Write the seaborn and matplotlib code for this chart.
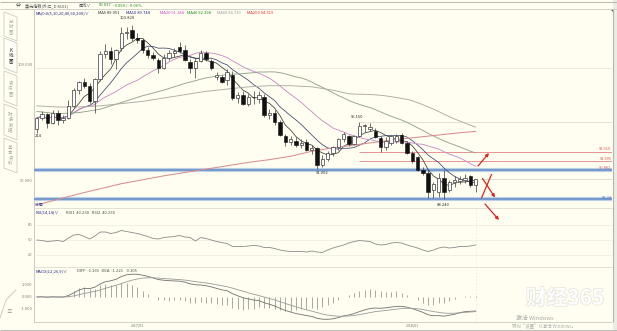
import numpy as np
import pandas as pd
import matplotlib
matplotlib.use("Agg")
import matplotlib.pyplot as plt
import matplotlib.patheffects as pe
from matplotlib.patches import Polygon
import seaborn as sns

sns.set_theme(style="white")
plt.rcParams["font.family"] = ["Noto Sans CJK SC", "DejaVu Sans"]
plt.rcParams["axes.unicode_minus"] = False

# ---- weekly US dollar index candles ----
open_ = [94.50, 95.50, 95.85, 95.10, 96.00, 95.30, 95.50, 96.60, 98.00, 98.70,
         98.40, 97.00, 99.00, 101.20, 101.50, 100.80, 101.80, 103.10, 103.40, 102.70,
         102.50, 101.60, 101.10, 100.70, 100.00, 100.90, 101.30, 101.90, 101.60, 100.50,
         99.97, 100.60, 101.30, 100.60, 99.20, 99.20, 98.90, 99.40, 97.30, 97.60,
         96.80, 97.40, 97.20, 97.40, 95.80, 96.00, 95.20, 93.90, 93.40, 93.50,
         93.10, 93.40, 92.70, 92.80, 91.30, 91.90, 92.40, 92.90, 93.60, 93.90,
         93.20, 93.90, 94.80, 94.50, 94.40, 93.70, 92.90, 93.30, 93.50, 94.00,
         93.30, 92.40, 92.00, 90.90, 90.60, 89.10, 88.90, 90.20, 89.10, 89.80,
         89.90, 90.00, 90.30, 89.55]
high = [95.60, 96.10, 95.95, 96.20, 96.20, 95.80, 97.10, 98.20, 98.80, 99.10,
        98.60, 99.10, 101.50, 102.10, 101.90, 101.70, 103.60, 103.60, 103.82, 103.10,
        102.70, 101.90, 101.40, 100.90, 101.20, 101.60, 101.80, 102.30, 102.00, 100.80,
        100.90, 101.60, 101.50, 100.80, 99.60, 99.40, 99.90, 99.70, 97.80, 97.90,
        97.70, 97.90, 97.90, 97.70, 96.30, 96.20, 95.30, 94.10, 93.90, 93.80,
        93.60, 93.60, 93.10, 92.90, 92.20, 92.60, 93.00, 93.70, 94.30, 94.00,
        94.00, 95.15, 95.00, 95.05, 94.60, 93.90, 93.80, 94.00, 94.10, 94.20,
        93.50, 92.60, 92.10, 91.10, 90.90, 89.80, 90.60, 90.90, 90.00, 90.30,
        90.30, 90.50, 90.40, 90.10]
low = [94.21, 95.30, 94.60, 95.00, 94.90, 95.10, 95.40, 96.50, 97.70, 98.20,
       96.90, 96.00, 98.80, 100.90, 100.30, 99.90, 101.50, 102.60, 102.40, 102.20,
       101.30, 100.90, 100.70, 99.50, 99.90, 100.70, 101.00, 101.30, 100.60, 99.50,
       99.10, 100.50, 100.60, 99.80, 98.90, 98.60, 98.50, 97.10, 96.90, 96.70,
       96.60, 96.80, 96.90, 95.60, 95.40, 94.90, 93.90, 93.00, 93.10, 92.90,
       92.80, 92.60, 92.30, 91.002, 91.10, 91.70, 92.10, 92.70, 93.40, 93.00,
       93.10, 93.80, 94.30, 94.40, 93.70, 92.50, 92.70, 93.10, 93.30, 93.20,
       92.30, 91.50, 90.80, 90.40, 88.40, 88.40, 88.50, 88.24, 88.90, 89.40,
       89.60, 89.70, 89.40, 88.90]
close = [95.50, 95.85, 95.10, 96.00, 95.30, 95.50, 96.60, 98.00, 98.70, 98.40,
         97.00, 99.00, 101.20, 101.50, 100.80, 101.60, 103.10, 103.20, 102.70, 102.50,
         101.60, 101.10, 100.90, 100.00, 100.90, 101.30, 101.50, 101.50, 100.70, 99.97,
         100.60, 101.30, 100.80, 100.00, 99.40, 98.70, 99.60, 97.30, 97.60, 96.80,
         97.40, 97.35, 97.60, 95.80, 96.00, 95.20, 94.00, 93.40, 93.60, 93.10,
         93.30, 92.70, 92.80, 91.30, 91.90, 92.40, 92.90, 93.60, 94.10, 93.20,
         93.90, 94.80, 94.90, 94.70, 93.80, 92.90, 93.50, 93.90, 93.90, 93.30,
         92.40, 91.70, 90.90, 90.60, 88.90, 89.60, 90.20, 88.90, 89.80, 90.00,
         90.10, 90.20, 89.50, 90.037]

# long averages before enough history is on screen
ma40_head_idx = [0, 4, 8, 12, 16, 20, 24, 28, 32, 36]
ma40_head = [96.10, 95.90, 96.00, 96.30, 96.90, 97.50, 98.00, 98.60, 99.10, 99.40]
ma60_head_idx = [0, 4, 8, 12, 16, 20, 24, 28, 32, 36, 40, 44, 48, 52, 56]
ma60_head = [96.60, 96.50, 96.50, 96.60, 96.80, 97.00, 97.30, 97.60, 97.90, 98.10,
             98.30, 98.40, 98.40, 98.30, 98.00]
ma200_idx = [0, 4, 8, 12, 16, 20, 24, 28, 32, 36, 40, 44, 48, 52, 56, 60, 64, 68,
             72, 76, 80, 83]
ma200 = [87.75, 88.25, 88.75, 89.20, 89.65, 90.00, 90.35, 90.65, 90.95, 91.25,
         91.55, 91.80, 92.10, 92.55, 92.85, 93.10, 93.35, 93.60, 93.80, 94.00,
         94.20, 94.319]

rsi = [50, 49, 47, 48, 49, 47, 54, 60, 61, 57, 52, 58, 66, 66, 63, 65, 69, 67, 65, 63,
       60, 57, 53, 52, 55, 56, 57, 59, 56, 55, 48, 55, 53, 50, 47, 45, 43, 37, 37, 37,
       38, 39, 38, 35, 35, 33, 30, 28, 27, 27, 27, 26, 28, 26, 25, 30, 34, 37, 40, 44,
       47, 49, 48, 47, 42, 40, 41, 44, 45, 44, 40, 37, 34, 30, 27, 30, 34, 36, 34, 35,
       37, 37, 38, 40.23]

diff = [0.00, 0.02, -0.02, 0.02, 0.00, 0.00, 0.12, 0.35, 0.58, 0.72, 0.70, 0.82, 1.08,
        1.28, 1.35, 1.48, 1.70, 1.85, 1.90, 1.90, 1.82, 1.72, 1.60, 1.45, 1.40, 1.36,
        1.34, 1.32, 1.24, 1.10, 1.02, 1.00, 0.94, 0.84, 0.72, 0.60, 0.52, 0.28, 0.10,
        -0.06, -0.16, -0.25, -0.30, -0.48, -0.60, -0.75, -0.95, -1.12, -1.25, -1.38,
        -1.46, -1.55, -1.62, -1.78, -1.85, -1.86, -1.82, -1.72, -1.58, -1.50, -1.38,
        -1.22, -1.08, -0.96, -0.92, -0.94, -0.90, -0.84, -0.78, -0.78, -0.85, -0.97,
        -1.12, -1.28, -1.48, -1.56, -1.55, -1.60, -1.52, -1.44, -1.30, -1.22, -1.19,
        -1.169]
dea = [0.00, 0.00, 0.00, 0.00, 0.00, 0.00, 0.02, 0.09, 0.19, 0.30, 0.38, 0.47, 0.59,
       0.73, 0.85, 0.98, 1.12, 1.27, 1.40, 1.50, 1.57, 1.60, 1.60, 1.57, 1.54, 1.51,
       1.48, 1.45, 1.41, 1.35, 1.28, 1.22, 1.17, 1.10, 1.02, 0.94, 0.86, 0.74, 0.61,
       0.48, 0.35, 0.23, 0.12, -0.01, -0.13, -0.25, -0.39, -0.54, -0.68, -0.82, -0.95,
       -1.07, -1.18, -1.30, -1.42, -1.51, -1.57, -1.60, -1.60, -1.58, -1.54, -1.47,
       -1.39, -1.30, -1.22, -1.17, -1.12, -1.06, -1.01, -0.96, -0.94, -0.95, -0.98,
       -1.04, -1.13, -1.21, -1.28, -1.34, -1.36, -1.35, -1.32, -1.28, -1.25, -1.221]

high_labels = [(17.2, 104.45, "103.820"), (60.6, 95.63, "95.150"),
               (53.9, 90.63, "91.002"), (76.9, 87.72, "88.240")]
support_levels = [90.882, 88.24]
target_levels = [92.51, 91.695]
peak_level = 95.15
date_ticks = [19, 71]
date_labels = ["2017/01", "2018/01"]

# ---- canvas geometry (pixels) ----
W, H = 617, 331
X0, DX = 36.7, 5.29          # first candle centre and spacing
PLOT_L, PLOT_R = 34, 612
BG = "#FFFEF0"

fig = plt.figure(figsize=(W / 100, H / 100), dpi=100, facecolor=BG)


def px_axes(x0, y0, x1, y1, z=1):
    ax = fig.add_axes([x0 / W, 1 - y1 / H, (x1 - x0) / W, (y1 - y0) / H], zorder=z)
    ax.set_facecolor("none")
    for s in ax.spines.values():
        s.set_visible(False)
    ax.set_xticks([])
    ax.set_yticks([])
    return ax


def xi(px):
    return (px - X0) / DX


XLIM = (xi(PLOT_L), xi(PLOT_R))

bg = px_axes(0, 0, W, H, z=0)
bg.set_xlim(0, W)
bg.set_ylim(H, 0)

fg = px_axes(0, 0, W, H, z=20)
fg.set_xlim(0, W)
fg.set_ylim(H, 0)

# ---- frame, header band, separators ----
bg.hlines([1.5], 0, W, color="#BDBDB5", lw=0.8)
bg.hlines([9.0], 0, W, color="#D2D2CA", lw=0.7)
bg.vlines([PLOT_L], 9, 322, color="#C9C9C0", lw=0.7)
bg.vlines([PLOT_R + 0.5], 9, 322, color="#B5B5AD", lw=0.8)
bg.fill_between([PLOT_R + 1, W], 0, H, color="#ECECE4", lw=0)
bg.hlines([208.0, 266.5], PLOT_L, PLOT_R, color="#DCDCD2", lw=0.6)
bg.hlines([321.5], PLOT_L, PLOT_R, color="#C9C9C0", lw=0.6)
bg.hlines([330.0], 0, W, color="#C0C0B8", lw=0.8)
bg.add_patch(Polygon([(609.5, 9.3), (612.5, 9.3), (612.5, 12.3)], closed=True,
                     color="#606060", lw=0))

# left-hand tabs
tabs = [(12, 36, "分\n时\n图", False), (38, 68, "K\n线\n图", True),
        (71, 101, "资\n讯\n图", False), (104, 135, "财\n务\n数\n据", False),
        (138, 168, "基\n本\n资\n料", False)]
for y0, y1, label, active in tabs:
    poly = Polygon([(4, y0), (17, y0 + 5), (17, y1 + 5), (4, y1)], closed=True,
                   facecolor="#FFFFF8" if active else BG,
                   edgecolor="#CDCDC3", lw=0.6)
    bg.add_patch(poly)
    bg.text(10.5, (y0 + y1) / 2 + 2.5, label, ha="center", va="center",
            fontsize=3.2, linespacing=1.05,
            color="#202020" if active else "#ABABA3")
bg.plot([0, 6, 16], [318, 300, 290], color="#C4C4BA", lw=0.6)
bg.text(9, 312, "≡", fontsize=4, color="#909090", ha="center", va="center")

# header rows
fg.text(16, 5.4, "⇔", fontsize=3.5, color="#404040", va="center")
fg.text(25, 5.4, "美元指数(外汇_D 8101)", fontsize=3.0, color="#505050", va="center")
fg.text(79, 5.4, "周线∨", fontsize=3.0, color="#505050", va="center")
fg.text(99, 5.4, "90.037", fontsize=3.0, color="#1E8A1E", va="center")
fg.text(113, 5.4, "-0.050 / -0.06%", fontsize=3.0, color="#1E8A1E", va="center")
ma_hdr = [(36, "MA(0:0(5,10,20,40,60,200)∨", "#2A2A8A"), (98, "MA5 89.951", "#303030"),
          (126, "MA10 89.744", "#22228A"), (160, "MA20 91.184", "#D040D0"),
          (187, "MA40 92.398", "#208A20"), (217, "MA60 94.719", "#9A9A9A"),
          (247, "MA200 94.319", "#E03030")]
for x, t, c in ma_hdr:
    fg.text(x, 12.8, t, fontsize=3.0, color=c, va="center")

# price-axis labels
for y, t in [(65, "100.000"), (181, "90.000")]:
    bg.text(32.5, y, t, fontsize=2.9, color="#808080", ha="right", va="center")
for y, t in [(225, "80"), (240, "50"), (255, "20")]:
    bg.text(32.5, y, t, fontsize=2.9, color="#808080", ha="right", va="center")
for y, t in [(285, "1.000"), (297, "0.000"), (309, "-1.000")]:
    bg.text(32.5, y, t, fontsize=2.9, color="#808080", ha="right", va="center")

# ---- main price panel ----
ax = px_axes(PLOT_L, 10, PLOT_R, 207, z=5)
ax.set_xlim(*XLIM)
ax.set_ylim(103.82 - (207 - 25) / 11.2, 103.82 + (25 - 10) / 11.2)

df = pd.DataFrame({"week": np.arange(len(close)), "open": open_, "high": high,
                   "low": low, "close": close})
n = len(df)

ax.axhline(100.0, color="#E4E4D8", lw=0.5, zorder=1)
ax.hlines(90.037, xi(480), XLIM[1], color="#DADAD0", lw=0.6, zorder=1)
for lv in support_levels:
    ax.axhline(lv, color="#BCD0E8", lw=3.0, zorder=1)
    ax.axhline(lv, color="#6F95C8", lw=1.3, zorder=1)
ax.hlines(target_levels, xi(359), XLIM[1], color="#E49494", lw=0.7, zorder=1)
ax.hlines(peak_level, xi(359), XLIM[1], color="#E6D8D0", lw=0.6, zorder=1)

s = df["close"]
lines = []
for win, col, lw in [(5, "#3A3A3A", 0.55), (10, "#3C4470", 0.55), (20, "#C890C8", 0.65)]:
    m = s.rolling(win, min_periods=1).mean()
    lines.append((df["week"], m, col, lw))
ma40_tail = s.rolling(40).mean().dropna()
ma60_tail = s.rolling(60).mean().dropna()
lines.append((ma40_head_idx + list(ma40_tail.index), ma40_head + list(ma40_tail.values),
              "#94A48C", 0.65))
lines.append((ma60_head_idx + list(ma60_tail.index), ma60_head + list(ma60_tail.values),
              "#ABABA5", 0.65))
lines.append((ma200_idx, ma200, "#D98E8E", 0.75))
for xs, ys, col, lw in lines:
    sns.lineplot(x=list(xs), y=list(ys), ax=ax, color=col, linewidth=lw,
                 estimator=None, sort=False, zorder=2)

up = df["close"] >= df["open"]
body_lo = df[["open", "close"]].min(axis=1)
body_h = (df["close"] - df["open"]).abs().clip(lower=0.05)
ax.vlines(df["week"], df["low"], df["high"], color="#4A4A4A", lw=0.55, zorder=3)
ax.bar(df["week"][up], body_h[up], bottom=body_lo[up], width=0.64, color="white",
       edgecolor="#4A4A4A", linewidth=0.55, zorder=4)
ax.bar(df["week"][~up], body_h[~up], bottom=body_lo[~up], width=0.64, color="#111111",
       edgecolor="#111111", linewidth=0.4, zorder=4)

for x, y, t in high_labels:
    ax.text(x, y, t, fontsize=3.0, color="#303030", ha="center", va="center", zorder=6)
ax.text(xi(35), 93.9, "214", fontsize=3.0, color="#303030", ha="left", va="center")
ax.text(xi(35), 87.78, "84周", fontsize=3.0, color="#3C3CA0", ha="left", va="center")
ax.set_xlabel("")
ax.set_ylabel("")

for y, t, c in [(149.5, "92.510", "#E05050"), (158.8, "91.695", "#E05050"),
                (168.0, "90.882", "#D06070"), (198.0, "88.24", "#4A78C0")]:
    fg.text(611.5, y, t, fontsize=2.9, color=c, ha="right", va="center")

# ---- RSI panel ----
ar = px_axes(PLOT_L, 208, PLOT_R, 266, z=5)
ar.set_xlim(*XLIM)
ar.set_ylim(50 - (266 - 240) * 2, 50 + (240 - 208) * 2)
for lv in (80, 50, 20):
    ar.axhline(lv, color="#EAEADF", lw=0.5, zorder=1)
sns.lineplot(x=df["week"], y=rsi, ax=ar, color="#8A8A8A", linewidth=0.6,
             estimator=None, zorder=2)
ar.set_xlabel("")
ar.set_ylabel("")
fg.text(36, 212.5, "RSI(14,14)∨", fontsize=3.0, color="#2A2A8A", va="center")
fg.text(66, 212.5, "RSI1  40.230   RSI2  40.230", fontsize=3.0, color="#505050",
        va="center")

# ---- MACD panel ----
am = px_axes(PLOT_L, 267, PLOT_R, 322, z=5)
am.set_xlim(*XLIM)
am.set_ylim(-(322 - 297) / 12, (297 - 267) / 12)
hist = 2 * (np.array(diff) - np.array(dea))
am.vlines(df["week"], 0, hist, color="#9A9A9A", lw=0.6, zorder=1)
sns.lineplot(x=df["week"], y=diff, ax=am, color="#707070", linewidth=0.6,
             estimator=None, zorder=2)
sns.lineplot(x=df["week"], y=dea, ax=am, color="#9A9A9A", linewidth=0.6,
             estimator=None, zorder=2)
am.set_xlabel("")
am.set_ylabel("")
fg.text(36, 271, "MACD(12,26,9)∨", fontsize=3.0, color="#2A2A8A", va="center")
fg.text(77, 271, "DIFF  -1.169   DEA  -1.221    0.105", fontsize=3.0, color="#505050",
        va="center")

for t, lab in zip(date_ticks, date_labels):
    fg.text(X0 + t * DX, 325.5, lab, fontsize=2.6, color="#707070", ha="center",
            va="center")

# cursor mark at the latest week
for a in (ar, am):
    a.axvline(n - 1, color="#E2E2D8", lw=0.5, ls=(0, (2, 3)), zorder=0)

# ---- hand-drawn trade hints ----
red = "#E02424"
arrow = dict(arrowstyle="-|>", color=red, lw=0.9, mutation_scale=4.5,
             shrinkA=0, shrinkB=0)
fg.annotate("", xy=(489, 153), xytext=(478, 166), arrowprops=arrow)
fg.plot([491.5, 481.5], [174.5, 198.0], color=red, lw=0.9)
fg.annotate("", xy=(495, 197.5), xytext=(482.5, 178.5), arrowprops=arrow)
fg.annotate("", xy=(499, 220), xytext=(485, 204), arrowprops=arrow)

# screen watermarks
fg.text(565, 298, "财经365", fontsize=15, fontweight="bold", color="white",
        ha="center", va="center", alpha=0.95,
        path_effects=[pe.withStroke(linewidth=1.0, foreground="#E2E2DA")])
fg.text(516, 318, "激活 Windows", fontsize=4.2, color="#A8A8A4", va="center")
fg.text(512, 326, "转到\u201c设置\u201d以激活 Windows。", fontsize=3.2,
        color="#B0B0AC", va="center")

fig.savefig("out.png", dpi=100, facecolor=BG)
